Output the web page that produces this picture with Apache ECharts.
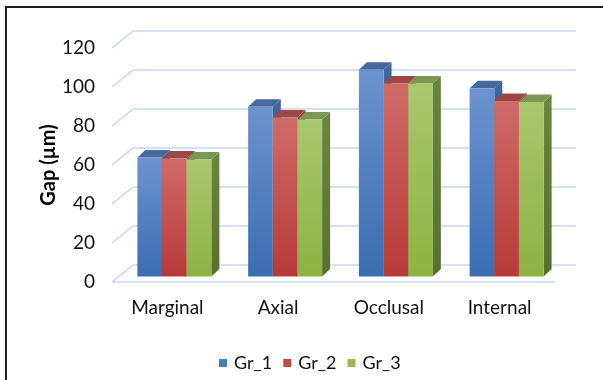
<!DOCTYPE html>
<html>
<head>
<meta charset="utf-8">
<script src="https://cdn.jsdelivr.net/npm/echarts@6/dist/echarts.min.js"></script>
<style>
  html, body { margin: 0; padding: 0; background: #fff; }
  #chart { width: 603px; height: 380px; }
</style>
</head>
<body>
<div id="chart"></div>
<script>
// Gap measurements per region, one array per group
const categories = ['Marginal', 'Axial', 'Occlusal', 'Internal'];
const seriesNames = ['Gr_1', 'Gr_2', 'Gr_3'];
const gr1 = [61, 87, 106, 96.5];
const gr2 = [60.5, 81.5, 99, 90];
const gr3 = [60, 80.5, 99, 89.5];
const yTicks = [0, 20, 40, 60, 80, 100, 120];

// Pseudo-3D geometry (pixels, relative to the plane of the bar fronts)
const FRONT = [-7, 5.5];   // front edge of the floor / side wall
const BACK = [14, -11.5];  // back wall
const DEPTH = [8, -7.5];   // depth of each bar
const GROUP_RATIO = 0.668; // share of a category band used by the cluster

// Plane of the bar fronts
const PLANE = { left: 119, right: 41, top: 42.5, bottom: 103.5 };

const palette = [
  { legend: '#4a7ebb', front: ['#6c93cf', '#3a6db2'], top: '#45699c', side: ['#44659a', '#34568a'] },
  { legend: '#be4b48', front: ['#cf6b67', '#b73a38'], top: '#9d4744', side: ['#93403d', '#7e302e'] },
  { legend: '#98b954', front: ['#a9c76e', '#8cb342'], top: '#7b9754', side: ['#6a853f', '#58702f'] }
];
const gridColor = '#c5d8ef';
const labelFont = 'Lato';

function vgrad(c) {
  return new echarts.graphic.LinearGradient(0, 0, 0, 1, [
    { offset: 0, color: c[0] }, { offset: 1, color: c[1] }
  ]);
}

function barRenderer(idx) {
  const pal = palette[idx];
  return function (params, api) {
    const cat = api.value(0);
    const val = api.value(1);
    const base = api.coord([cat, 0]);
    const top = api.coord([cat, val]);
    const band = api.size([1, 0])[0];
    const groupW = band * GROUP_RATIO;
    const barW = groupW / seriesNames.length;
    const x0 = base[0] - groupW / 2 + idx * barW;
    const x1 = x0 + barW;
    const yb = base[1];
    const yt = top[1];
    const dx = DEPTH[0], dy = DEPTH[1];
    return {
      type: 'group',
      children: [
        { type: 'polygon', shape: { points: [[x1, yt], [x1 + dx, yt + dy], [x1 + dx, yb + dy], [x1, yb]] },
          style: { fill: vgrad(pal.side) } },
        { type: 'polygon', shape: { points: [[x0, yt], [x0 + dx, yt + dy], [x1 + dx, yt + dy], [x1, yt]] },
          style: { fill: pal.top } },
        { type: 'rect', shape: { x: x0, y: yt, width: barW, height: yb - yt },
          style: { fill: vgrad(pal.front) } }
      ]
    };
  };
}

// Back wall gridlines, side wall diagonals and the floor's front edge
function wallRenderer(params, api) {
  const cs = params.coordSys;
  const v = api.value(1);
  const y = api.coord([0, v])[1];
  const lineStyle = { stroke: gridColor, lineWidth: 1.6, fill: null };
  const children = [
    { type: 'line', shape: { x1: cs.x + FRONT[0], y1: y + FRONT[1], x2: cs.x + BACK[0], y2: y + BACK[1] }, style: lineStyle },
    { type: 'line', shape: { x1: cs.x + BACK[0], y1: y + BACK[1], x2: cs.x + cs.width + BACK[0], y2: y + BACK[1] }, style: lineStyle }
  ];
  if (v === 0) {
    children.push({ type: 'line', shape: { x1: cs.x + FRONT[0], y1: y + FRONT[1], x2: cs.x + cs.width + FRONT[0], y2: y + FRONT[1] }, style: lineStyle });
  }
  return { type: 'group', children: children };
}

const values = [gr1, gr2, gr3];
const chart = echarts.init(document.getElementById('chart'), null, { renderer: 'canvas' });

const series = [{
  type: 'custom',
  name: 'wall',
  renderItem: wallRenderer,
  data: yTicks.map(v => [0, v]),
  silent: true,
  z: 1
}];
seriesNames.forEach((name, i) => {
  series.push({
    type: 'custom',
    name: name,
    renderItem: barRenderer(i),
    itemStyle: { color: palette[i].legend },
    data: values[i].map((v, c) => [c, v]),
    z: 2
  });
});

const hiddenAxisParts = { axisLine: { show: false }, axisTick: { show: false }, splitLine: { show: false } };

chart.setOption({
  animation: false,
  backgroundColor: '#fff',
  textStyle: { fontFamily: labelFont },
  grid: [
    // bar-front plane
    { left: PLANE.left, right: PLANE.right, top: PLANE.top, bottom: PLANE.bottom, outerBoundsMode: 'none', containLabel: false },
    // front plane, carries the axis labels
    { left: PLANE.left + FRONT[0], right: PLANE.right - FRONT[0], top: PLANE.top + FRONT[1], bottom: PLANE.bottom - FRONT[1], outerBoundsMode: 'none', containLabel: false }
  ],
  xAxis: [
    Object.assign({ type: 'category', gridIndex: 0, data: categories, axisLabel: { show: false } }, hiddenAxisParts),
    Object.assign({ type: 'category', gridIndex: 1, data: categories,
      axisLabel: { margin: 16, fontFamily: labelFont, fontSize: 19, color: '#111' } }, hiddenAxisParts)
  ],
  yAxis: [
    Object.assign({ type: 'value', gridIndex: 0, min: 0, max: 120, interval: 20, axisLabel: { show: false } }, hiddenAxisParts),
    Object.assign({ type: 'value', gridIndex: 1, min: 0, max: 120, interval: 20,
      axisLabel: { margin: 17, fontFamily: labelFont, fontSize: 19, color: '#111',
        formatter: v => yTicks.includes(v) ? String(v) : '' } }, hiddenAxisParts)
  ],
  legend: {
    data: seriesNames,
    left: 214, top: 349,
    icon: 'rect',
    itemWidth: 8, itemHeight: 8,
    itemGap: 11,
    textStyle: { fontFamily: labelFont, fontSize: 18, color: '#111', padding: [0, 0, 0, 2] }
  },
  graphic: [
    { type: 'rect', shape: { x: 6, y: 7, width: 800, height: 600 }, style: { fill: null, stroke: '#1e1e1e', lineWidth: 2 }, silent: true },
    { type: 'text', x: 49, y: 165, rotation: Math.PI / 2,
      style: { text: 'Gap (µm)', font: 'bold 20px Lato', fill: '#000', textAlign: 'center', textVerticalAlign: 'middle' } }
  ],
  series: series
});
</script>
</body>
</html>
